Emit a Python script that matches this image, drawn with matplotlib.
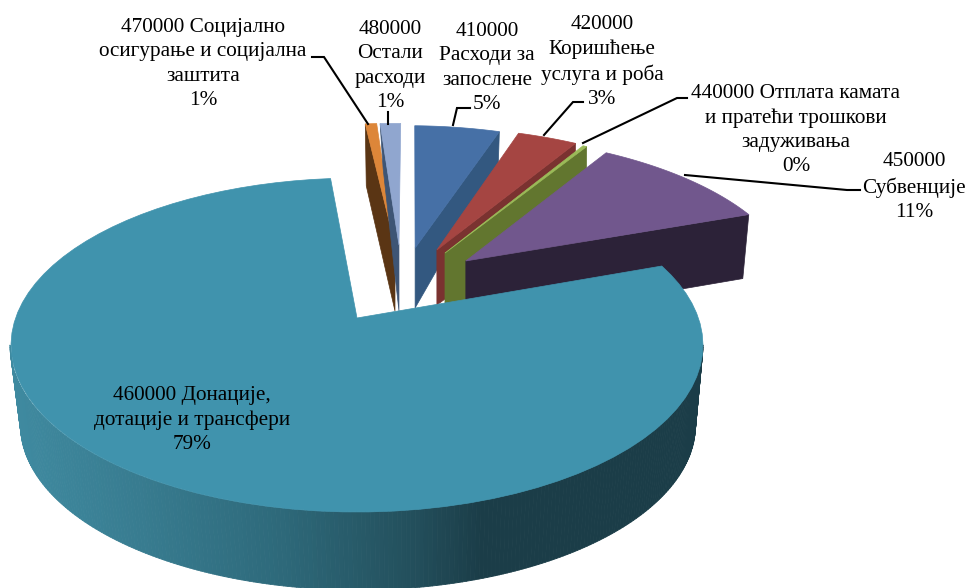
import numpy as np
import matplotlib
matplotlib.use("Agg")
import matplotlib.pyplot as plt
from matplotlib.collections import PolyCollection
from matplotlib.colors import LinearSegmentedColormap
from matplotlib.patches import Polygon

# slices in chart order, clockwise
codes = ["410000", "420000", "440000", "450000", "460000", "470000", "480000"]
names = [
    "Расходи за\nзапослене",
    "Коришћење\nуслуга и роба",
    "Отплата камата\nи пратећи трошкови\nзадуживања",
    "Субвенције",
    "Донације,\nдотације и трансфери",
    "Социјално\nосигурање и социјална\nзаштита",
    "Остали\nрасходи",
]
shares = [4.92, 3.44, 0.22, 10.53, 79.04, 0.66, 1.19]
percent_labels = ["5%", "3%", "0%", "11%", "79%", "1%", "1%"]

top_colors = ["#4670A6", "#A54542", "#9BBB59", "#71578D", "#4093AD", "#DD8639", "#90A6CF"]
side_colors = ["#335880", "#7A3230", "#62762F", "#2C2238", "#1B3D48", "#5A3514", "#3E5575"]

# plane offset of each slice, (0, 0) means not pulled out
offset_u = [0.183, 0.251, 0.2755, 0.338, 0.0, 0.120, 0.1326]
offset_v = [0.463, 0.4485, 0.427, 0.372, 0.0, 0.484, 0.484]
# which cut edge shows, and how far it drops at the rim and at the apex
side_edge = [1, 1, 1, 1, None, 0, 0]
drop_rim = [31, 60, 110, 64, 0, 62, 45]
drop_apex = [60, 55, 60, 65, 0, 66, 66]
shift_rim = [-1, -1, -1, -6, 0, 1, 3]

# label placement: centre x, centre y of the text block
label_x = [487, 602, 796, 914, 192, 203, 390]
label_y = [68, 62, 130, 187, 420, 64, 66]

leaders = [
    ([470, 457, 453], [108, 108, 125]),
    ([583, 573, 544], [102, 102, 135]),
    ([687, 677, 583], [98, 98, 143]),
    ([860, 847, 685], [190, 190, 175]),
    None,
    ([312, 324, 368], [57, 57, 124]),
    ([388, 388], [112, 124]),
]

START_ANGLE = 1.5
CX, CY = 357.0, 318.0
SCALE_U, SCALE_V, TILT = 341.4, 162.6, 0.162


def project(u, v):
    w = 1 + TILT * v
    return CX + SCALE_U * u / w, CY - SCALE_V * v / w


def slice_points(a0, a1, off_u, off_v):
    a = np.radians(np.linspace(a0, a1, 80))
    x, y = project(off_u + np.sin(a), off_v + np.cos(a))
    ax0, ay0 = project(np.array(off_u), np.array(off_v))
    return float(ax0), float(ay0), x, y


def draw_cut_face(ax, i, a0, a1):
    apex_x, apex_y, x, y = slice_points(a0, a1, offset_u[i], offset_v[i])
    k = -1 if side_edge[i] == 1 else 0
    pts = [
        (apex_x, apex_y),
        (x[k], y[k]),
        (x[k] + shift_rim[i], y[k] + drop_rim[i]),
        (apex_x, apex_y + drop_apex[i]),
    ]
    ax.add_patch(Polygon(pts, closed=True, fc=side_colors[i], ec=side_colors[i], lw=0.5))


def draw_top(ax, i, a0, a1):
    apex_x, apex_y, x, y = slice_points(a0, a1, offset_u[i], offset_v[i])
    pts = np.column_stack([np.r_[apex_x, x], np.r_[apex_y, y]])
    ax.add_patch(Polygon(pts, closed=True, fc=top_colors[i], ec=top_colors[i], lw=0.5))


def draw_rim(ax, i):
    # front wall between the top ellipse and the lower ellipse
    t = np.radians(np.linspace(180, 360, 241))
    x_top = 356.5 + 346.5 * np.cos(t)
    y_top = 345 - 167 * np.sin(t)
    x_low = 358 + 337.5 * np.cos(t)
    y_low = 425 - 165 * np.sin(t)
    quads = [
        [(x_top[j], y_top[j]), (x_top[j + 1], y_top[j + 1]),
         (x_low[j + 1], y_low[j + 1]), (x_low[j], y_low[j])]
        for j in range(len(t) - 1)
    ]
    cmap = LinearSegmentedColormap.from_list(
        "rim", [(0, "#3F8AA0"), (0.18, "#387C90"), (0.38, "#2E6A7B"),
                (0.58, "#234F5C"), (0.68, "#1B3D48"), (1, "#1B3D48")])
    cols = cmap(np.clip((x_low[:-1] - 20) / 675, 0, 1))
    ax.add_collection(PolyCollection(quads, facecolors=cols, edgecolors=cols, linewidths=0.6))


def main():
    fig = plt.figure(figsize=(9.69, 5.88), dpi=100)
    ax = fig.add_axes([0, 0, 1, 1])
    ax.set_xlim(0, 969)
    ax.set_ylim(588, 0)
    ax.axis("off")

    degrees = np.array(shares) * 360.0 / np.sum(shares)
    edges = START_ANGLE + np.r_[0, np.cumsum(degrees)]

    # back to front
    for i in [5, 6, 0, 1, 2, 3]:
        draw_cut_face(ax, i, edges[i], edges[i + 1])
        draw_top(ax, i, edges[i], edges[i + 1])
    draw_rim(ax, 4)
    draw_top(ax, 4, edges[4], edges[5])

    for line in leaders:
        if line is not None:
            ax.plot(line[0], line[1], color="black", lw=1.5, solid_joinstyle="miter")

    for i in range(len(codes)):
        # the code keeps its own line only on the narrow labels
        first_sep = "\n" if i in (0, 1, 3, 6) else " "
        label = codes[i] + first_sep + names[i] + "\n" + percent_labels[i]
        ax.text(label_x[i], label_y[i], label, ha="center", va="center",
                family="Liberation Serif", fontsize=15.3, color="black", linespacing=1.38)

    fig.savefig("out.png", dpi=100)


if __name__ == "__main__":
    main()
